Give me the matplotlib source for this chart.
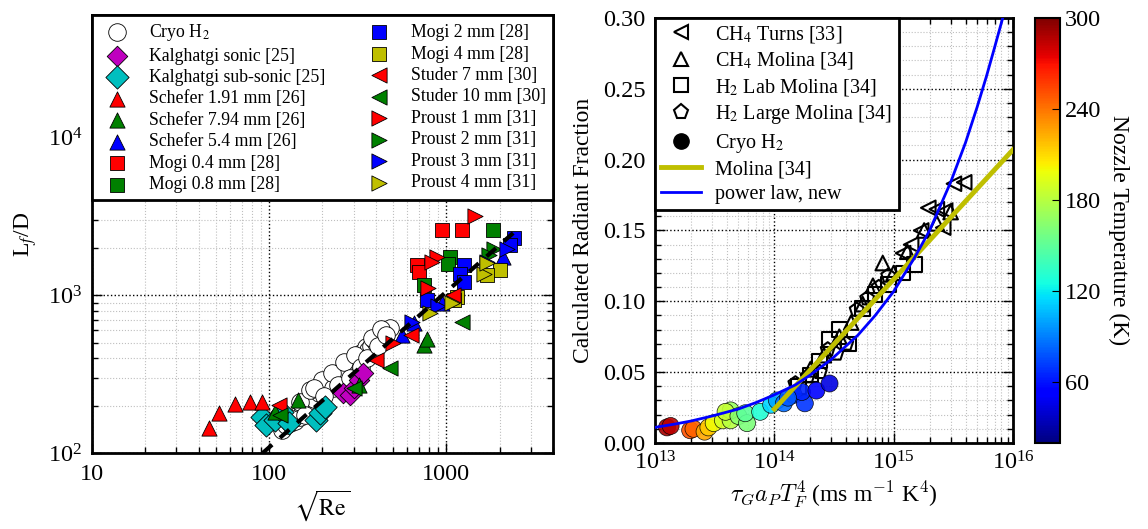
import numpy as np
import matplotlib
matplotlib.use('Agg')
import matplotlib.pyplot as plt
from matplotlib.lines import Line2D

plt.rcParams['font.family'] = ['Liberation Serif', 'DejaVu Serif']
plt.rcParams['mathtext.fontset'] = 'stix'
plt.rcParams['font.size'] = 17

# ---------------- left panel data: (sqrt(Re), Lf/D) ----------------
cryo_x = [118, 125, 132, 140, 145, 150, 155, 160, 165, 170, 175, 180, 185, 190, 195,
          200, 210, 215, 220, 230, 240, 250, 260, 270, 280, 290, 300, 310, 320, 330,
          340, 350, 360, 375, 390, 400, 420, 440, 460, 480, 150, 170, 200, 230, 260,
          135, 160, 178, 205, 225, 245, 265, 285, 305, 330, 355, 380, 410, 430, 455]
cryo_y = [140, 150, 155, 160, 175, 170, 190, 200, 195, 210, 230, 220, 250, 240, 260,
          280, 250, 290, 270, 300, 290, 320, 310, 350, 330, 380, 360, 400, 390, 430,
          420, 470, 450, 480, 520, 500, 550, 580, 600, 620, 210, 250, 290, 260, 340,
          165, 175, 260, 230, 320, 270, 380, 300, 420, 350, 400, 540, 480, 610, 560]
kalg_sonic_x = [260, 285, 300, 320, 337]
kalg_sonic_y = [240, 233, 260, 290, 321]
kalg_sub_x = [91, 96, 108, 118, 129, 183, 193, 207]
kalg_sub_y = [169, 150, 162, 182, 155, 162, 179, 195]
schefer191_x = [46, 52, 64, 78, 91]
schefer191_y = [144, 179, 204, 210, 210]
schefer794_x = [108, 146, 320, 750, 773]
schefer794_y = [182, 216, 270, 483, 530]
schefer54_x = [560, 660, 950, 2090]
schefer54_y = [560, 665, 890, 1740]
mogi04_x = [680, 950, 1230, 700]
mogi04_y = [1550, 2580, 2580, 1400]
mogi08_x = [1840, 1050, 1020, 750]
mogi08_y = [2580, 1740, 1590, 1160]
mogi2_x = [2400, 1260, 1200, 1260, 773, 2300]
mogi2_y = [2300, 1550, 1375, 1210, 930, 2100]
mogi4_x = [2000, 1150, 1700, 1100]
mogi4_y = [1450, 970, 1350, 940]
studer7_x = [114, 630, 1095, 400]
studer7_y = [201, 560, 1000, 390]
studer10_x = [115, 300, 480, 1230]
studer10_y = [175, 258, 345, 676]
proust1_x = [1455, 890, 835, 790, 500]
proust1_y = [3200, 1740, 1620, 1120, 497]
proust2_x = [1870, 1750]
proust2_y = [1980, 1800]
proust3_x = [2200, 640, 1700, 900]
proust3_y = [1980, 676, 1620, 850]
proust4_x = [1630, 1070, 810, 1700]
proust4_y = [1375, 900, 770, 1600]
fit_x = [92, 2400]
fit_y = [100, 2500]

# ---------------- right panel data ----------------
turns_x = [1.2e15, 1.4e15, 1.7e15, 1.95e15, 2.3e15, 2.6e15, 2.7e15, 3.2e15, 3.9e15]
turns_y = [0.134, 0.140, 0.150, 0.166, 0.165, 0.152, 0.164, 0.183, 0.184]
ch4_x = [2.0e14, 2.6e14, 3.5e14, 4.4e14, 5.5e14, 6.7e14, 8.1e14, 1.0e15, 1.3e15, 1.8e15, 2.3e15, 3.0e15]
ch4_y = [0.052, 0.062, 0.075, 0.085, 0.098, 0.111, 0.127, 0.120, 0.135, 0.150, 0.155, 0.163]
h2lab_x = [1.6e14, 2.0e14, 2.4e14, 2.9e14, 3.5e14, 4.2e14, 5.5e14, 7.0e14, 9.0e14, 1.2e15, 1.5e15]
h2lab_y = [0.040, 0.048, 0.058, 0.073, 0.080, 0.070, 0.095, 0.105, 0.112, 0.120, 0.126]
h2large_x = [1.5e14, 1.9e14, 2.4e14, 2.8e14, 3.3e14, 4.0e14, 4.9e14, 6.0e14, 7.5e14, 9.0e14]
h2large_y = [0.042, 0.047, 0.050, 0.066, 0.063, 0.070, 0.094, 0.102, 0.110, 0.118]
rcryo_x = [1.26e13, 1.35e13, 1.97e13, 2.1e13, 2.6e13, 2.8e13, 3.1e13, 3.7e13, 4.3e13, 4.3e13,
           3.9e13, 5.0e13, 5.9e13, 5.7e13, 7.6e13, 9.4e13, 1.05e14, 1.2e14, 1.45e14, 1.8e14,
           1.7e14, 2.25e14, 2.9e14, 1.3e14]
rcryo_y = [0.011, 0.012, 0.009, 0.010, 0.008, 0.011, 0.014, 0.016, 0.016, 0.023,
           0.022, 0.019, 0.014, 0.021, 0.022, 0.027, 0.030, 0.028, 0.034, 0.028,
           0.036, 0.037, 0.042, 0.032]
rcryo_T = [290, 285, 250, 245, 225, 215, 200, 190, 180, 170,
           185, 165, 160, 150, 130, 115, 100, 85, 75, 70,
           65, 55, 45, 80]
molina_x = [1.0e14, 1.0e16]
molina_y = [0.024, 0.207]
power_x = [1e13, 1.5e13, 2e13, 3e13, 5e13, 7e13, 1e14, 1.5e14, 2e14, 3e14, 5e14, 7e14,
           1e15, 1.5e15, 2e15, 3e15, 4e15, 5e15, 6e15, 7e15, 8.2e15]
power_y = [0.011, 0.0135, 0.0155, 0.019, 0.024, 0.0285, 0.034, 0.041, 0.048, 0.059, 0.076, 0.090,
           0.107, 0.131, 0.150, 0.184, 0.212, 0.237, 0.259, 0.279, 0.300]

RED, GREEN, BLUE = (1, 0, 0), (0, 0.5, 0), (0, 0, 1)
CYAN, MAGENTA, OLIVE = (0, 0.75, 0.75), (0.75, 0, 0.75), (0.75, 0.75, 0)

fig = plt.figure(figsize=(11.48, 5.29), dpi=100)
ax1 = fig.add_axes([0.0801, 0.1437, 0.4016, 0.8279])
ax2 = fig.add_axes([0.5706, 0.1626, 0.3118, 0.8034])
cax = fig.add_axes([0.9016, 0.1626, 0.0218, 0.8034])


def style_axes(ax):
    ax.grid(True, which='major', color='k', linestyle=':', linewidth=1.0)
    ax.grid(True, which='minor', color='0.75', linestyle=':', linewidth=0.8)
    ax.tick_params(which='both', direction='in', top=True, right=True, labelsize=17.5)
    ax.tick_params(which='major', length=7, width=1)
    ax.tick_params(which='minor', length=4, width=1)
    ax.tick_params(axis='x', which='major', pad=8)
    ax.tick_params(axis='y', which='major', pad=7)
    for s in ax.spines.values():
        s.set_linewidth(2)
    ax.set_axisbelow(True)


# ---------- left panel ----------
kw = dict(edgecolors='k', linewidths=0.6, zorder=3)
ax1.scatter(cryo_x, cryo_y, s=160, marker='o', facecolors='w', label='Cryo H$_2$', **kw)
ax1.scatter(kalg_sonic_x, kalg_sonic_y, s=110, marker='D', c=[MAGENTA], label='Kalghatgi sonic [25]', **kw)
ax1.scatter(kalg_sub_x, kalg_sub_y, s=140, marker='D', c=[CYAN], label='Kalghatgi sub-sonic [25]', **kw)
ax1.scatter(schefer191_x, schefer191_y, s=120, marker='^', c=[RED], label='Schefer 1.91 mm [26]', **kw)
ax1.scatter(schefer794_x, schefer794_y, s=120, marker='^', c=[GREEN], label='Schefer 7.94 mm [26]', **kw)
ax1.scatter(schefer54_x, schefer54_y, s=120, marker='^', c=[BLUE], label='Schefer 5.4 mm [26]', **kw)
ax1.scatter(mogi04_x, mogi04_y, s=110, marker='s', c=[RED], label='Mogi 0.4 mm [28]', **kw)
ax1.scatter(mogi08_x, mogi08_y, s=110, marker='s', c=[GREEN], label='Mogi 0.8 mm [28]', **kw)
ax1.scatter(mogi2_x, mogi2_y, s=110, marker='s', c=[BLUE], label='Mogi 2 mm [28]', **kw)
ax1.scatter(mogi4_x, mogi4_y, s=110, marker='s', c=[OLIVE], label='Mogi 4 mm [28]', **kw)
ax1.scatter(studer7_x, studer7_y, s=120, marker='<', c=[RED], label='Studer 7 mm [30]', **kw)
ax1.scatter(studer10_x, studer10_y, s=120, marker='<', c=[GREEN], label='Studer 10 mm [30]', **kw)
ax1.scatter(proust1_x, proust1_y, s=120, marker='>', c=[RED], label='Proust 1 mm [31]', **kw)
ax1.scatter(proust2_x, proust2_y, s=120, marker='>', c=[GREEN], label='Proust 2 mm [31]', **kw)
ax1.scatter(proust3_x, proust3_y, s=120, marker='>', c=[BLUE], label='Proust 3 mm [31]', **kw)
ax1.scatter(proust4_x, proust4_y, s=120, marker='>', c=[OLIVE], label='Proust 4 mm [31]', **kw)
ax1.plot(fit_x, fit_y, 'k--', linewidth=3, dashes=(3, 2.5), zorder=4)

ax1.set_xscale('log')
ax1.set_yscale('log')
ax1.set_xlim(10, 4000)
ax1.set_ylim(100, 6e4)
ax1.set_xticks([10, 100, 1000], labels=['10', '100', '1000'])
style_axes(ax1)
ax1.set_xlabel(r'$\sqrt{\rm Re}$', fontsize=17, labelpad=2)
ax1.set_ylabel(r'L$_f$/D', fontsize=17, labelpad=6)
leg1 = ax1.legend(ncol=2, loc='upper left', bbox_to_anchor=(0, 0, 1, 1), mode='expand',
                  borderaxespad=0, fontsize=12.8, scatterpoints=1, labelspacing=0.25,
                  handletextpad=0.8, handlelength=2.0, borderpad=0.4, fancybox=False,
                  framealpha=1, columnspacing=1.0)
leg1.get_frame().set_edgecolor('k')
leg1.get_frame().set_linewidth(2)
leg1.set_zorder(10)

# ---------- right panel ----------
okw = dict(facecolors='none', edgecolors='k', linewidths=1.5, s=110, zorder=3)
ax2.scatter(turns_x, turns_y, marker='<', **okw)
ax2.scatter(ch4_x, ch4_y, marker='^', **okw)
ax2.scatter(h2lab_x, h2lab_y, marker='s', **okw)
ax2.scatter(h2large_x, h2large_y, marker='p', **okw)
sc = ax2.scatter(rcryo_x, rcryo_y, c=rcryo_T, cmap='jet', vmin=20, vmax=300, s=150,
                 edgecolors='k', linewidths=0.5, alpha=0.9, zorder=4)
ax2.plot(molina_x, molina_y, color=OLIVE, linewidth=3.5, zorder=5)
ax2.plot(power_x, power_y, color='b', linewidth=2, zorder=6)

ax2.set_xscale('log')
ax2.set_xlim(1e13, 1e16)
ax2.set_ylim(0, 0.30)
ax2.set_yticks(np.arange(0, 0.301, 0.05))
ax2.set_yticklabels(['%.2f' % v for v in np.arange(0, 0.301, 0.05)])
ax2.yaxis.set_minor_locator(matplotlib.ticker.MultipleLocator(0.01))
style_axes(ax2)
ax2.tick_params(axis='x', which='major', pad=6)
ax2.set_xlabel(r'$\tau_G a_P T_F^4$ (ms m$^{-1}$ K$^4$)', fontsize=17, labelpad=3,
               math_fontfamily='cm')
ax2.set_ylabel('Calculated Radiant Fraction', fontsize=17, labelpad=6)

handles = [
    Line2D([], [], linestyle='none', marker='<', markersize=10, markerfacecolor='none', markeredgecolor='k', markeredgewidth=1.5),
    Line2D([], [], linestyle='none', marker='^', markersize=10, markerfacecolor='none', markeredgecolor='k', markeredgewidth=1.5),
    Line2D([], [], linestyle='none', marker='s', markersize=10, markerfacecolor='none', markeredgecolor='k', markeredgewidth=1.5),
    Line2D([], [], linestyle='none', marker='p', markersize=11, markerfacecolor='none', markeredgecolor='k', markeredgewidth=1.5),
    Line2D([], [], linestyle='none', marker='o', markersize=11, markerfacecolor='k', markeredgecolor='k'),
    Line2D([], [], color=OLIVE, linewidth=3.5),
    Line2D([], [], color='b', linewidth=2),
]
labels = ['CH$_4$ Turns [33]', 'CH$_4$ Molina [34]', 'H$_2$ Lab Molina [34]',
          'H$_2$ Large Molina [34]', 'Cryo H$_2$', 'Molina [34]', 'power law, new']
leg2 = ax2.legend(handles, labels, loc='upper left', borderaxespad=0, fontsize=14.5,
                  labelspacing=0.27, handlelength=2.0, handletextpad=0.7, borderpad=0.3,
                  fancybox=False, framealpha=1)
leg2.get_frame().set_edgecolor('k')
leg2.get_frame().set_linewidth(2)
leg2.set_zorder(10)

cb = fig.colorbar(sc, cax=cax, ticks=[60, 120, 180, 240, 300])
cb.solids.set_alpha(1)
cb.outline.set_linewidth(1.5)
cb.ax.tick_params(labelsize=17.5, direction='in', length=6)
cb.set_label('Nozzle Temperature (K)', fontsize=17, rotation=270, labelpad=20)

fig.savefig('out.png', dpi=100)
